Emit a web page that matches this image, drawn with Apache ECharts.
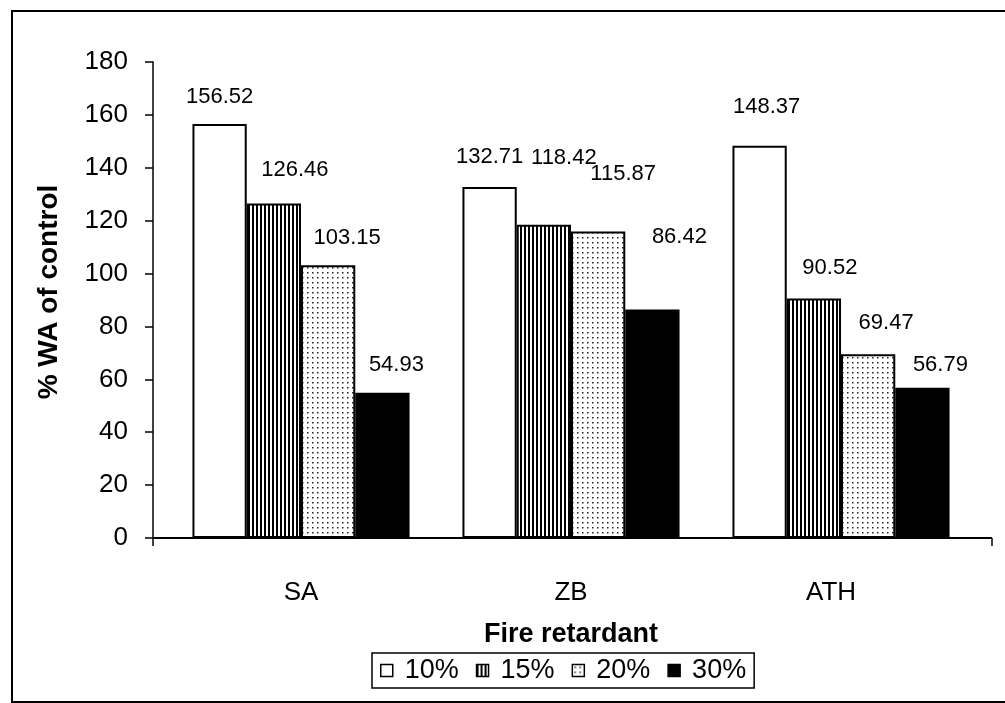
<!DOCTYPE html>
<html><head><meta charset="utf-8">
<script src="https://cdn.jsdelivr.net/npm/echarts@6/dist/echarts.min.js"></script>
<style>html,body{margin:0;padding:0;background:#fff}#c{width:1005px;height:703px}</style>
</head><body><div id="c"></div>
<script>
// ---- data ----
const categories = ['SA', 'ZB', 'ATH'];
const seriesNames = ['10%', '15%', '20%', '30%'];
const v10 = [156.52, 132.71, 148.37];
const v15 = [126.46, 118.42, 90.52];
const v20 = [103.15, 115.87, 69.47];
const v30 = [54.93, 86.42, 56.79];
const yMin = 0, yMax = 180, yStep = 20;

// ---- label nudges (style, not data) ----
const labelShift = [
  [[0, -16], [0, -19], [7, -28]],
  [[21, -23], [20, -56], [16, -20]],
  [[19, -16], [25, -47], [18, -20]],
  [[14, -17], [27, -62], [18, -12]]
];
const catLabelPad = [[0, 0, 0, 0], [0, 0, 0, 0], [0, 20, 0, 0]];

const FONT = 'Liberation Sans, Arial, sans-serif';

function makePattern(kind) {
  const c = document.createElement('canvas');
  const ctx = c.getContext('2d');
  if (kind === 'stripes') {
    c.width = 4; c.height = 4;
    ctx.fillStyle = '#fff'; ctx.fillRect(0, 0, 4, 4);
    ctx.fillStyle = '#000'; ctx.fillRect(0, 0, 2, 4);
  } else if (kind === 'dots') {
    c.width = 5; c.height = 5;
    ctx.fillStyle = '#fff'; ctx.fillRect(0, 0, 5, 5);
    ctx.fillStyle = '#222'; ctx.fillRect(2, 2, 1.5, 1.5);
  }
  return { image: c, repeat: 'repeat' };
}
const fills = ['#ffffff', makePattern('stripes'), makePattern('dots'), '#000000'];
const values = [v10, v15, v20, v30];

const gridLeft = 166, gridTop = 62, gridRight = 29, gridBottom = 165;
const W = 1005, H = 703;
const axisY = H - gridBottom;

const chart = echarts.init(document.getElementById('c'), null, { renderer: 'canvas' });

const series = seriesNames.map((name, si) => ({
  name: name,
  type: 'bar',
  barGap: '0%',
  barCategoryGap: '19.6%',
  itemStyle: { color: fills[si], borderColor: '#000', borderWidth: 2 },
  label: {
    show: true, position: 'top', distance: 0,
    fontFamily: FONT, fontSize: 22, color: '#000', lineHeight: 22,
    formatter: p => p.value.toFixed(2)
  },
  data: values[si].map((v, ci) => ({
    value: v,
    label: { offset: labelShift[si][ci] }
  }))
}));

chart.setOption({
  animation: false,
  backgroundColor: '#fff',
  textStyle: { fontFamily: FONT },
  grid: { left: gridLeft, top: gridTop, right: gridRight, bottom: gridBottom },
  legend: {
    data: seriesNames,
    left: 372, top: 653,
    orient: 'horizontal',
    itemWidth: 12, itemHeight: 12, itemGap: 17,
    padding: [4, 8, 4, 8],
    borderColor: '#000', borderWidth: 1.5,
    icon: 'rect',
    itemStyle: { borderColor: '#000', borderWidth: 1.5 },
    textStyle: { fontFamily: FONT, fontSize: 27, color: '#000', padding: [0, 0, 0, 7] }
  },
  xAxis: {
    type: 'category',
    data: categories.map((c, i) => ({ value: c, textStyle: { padding: catLabelPad[i] } })),
    name: 'Fire retardant',
    nameLocation: 'middle',
    nameGap: 83,
    nameTextStyle: { fontFamily: FONT, fontSize: 27, fontWeight: 'bold', color: '#000' },
    axisLine: { lineStyle: { color: '#000', width: 2 } },
    axisTick: { show: false },
    axisLabel: { fontFamily: FONT, fontSize: 26, color: '#000', margin: 42 }
  },
  yAxis: {
    type: 'value',
    min: yMin, max: yMax, interval: yStep,
    offset: gridLeft - 153,
    name: '% WA of control',
    nameLocation: 'middle',
    nameGap: 90,
    nameRotate: 90,
    nameTextStyle: { fontFamily: FONT, fontSize: 28, fontWeight: 'bold', color: '#000', padding: [0, 0, 0, 16] },
    axisLine: { show: true, lineStyle: { color: '#000', width: 1.5 } },
    axisTick: { show: true, length: 8, lineStyle: { color: '#000', width: 1.5 } },
    axisLabel: { fontFamily: FONT, fontSize: 26, color: '#000', margin: 25 },
    splitLine: { show: false }
  },
  graphic: [
    { type: 'rect', shape: { x: 12, y: 11, width: 1010, height: 691 },
      style: { fill: null, stroke: '#000', lineWidth: 2 }, silent: true, z: 0 },
    { type: 'line', shape: { x1: 153, y1: axisY, x2: gridLeft, y2: axisY },
      style: { stroke: '#000', lineWidth: 2 }, z: 10 },
    { type: 'line', shape: { x1: W - gridRight, y1: axisY, x2: 992, y2: axisY },
      style: { stroke: '#000', lineWidth: 2 }, z: 10 },
    { type: 'line', shape: { x1: 153, y1: axisY, x2: 153, y2: axisY + 8 },
      style: { stroke: '#000', lineWidth: 1.5 }, z: 10 },
    { type: 'line', shape: { x1: 992, y1: axisY, x2: 992, y2: axisY + 8 },
      style: { stroke: '#000', lineWidth: 1.5 }, z: 10 }
  ],
  series: series
});
</script></body></html>
